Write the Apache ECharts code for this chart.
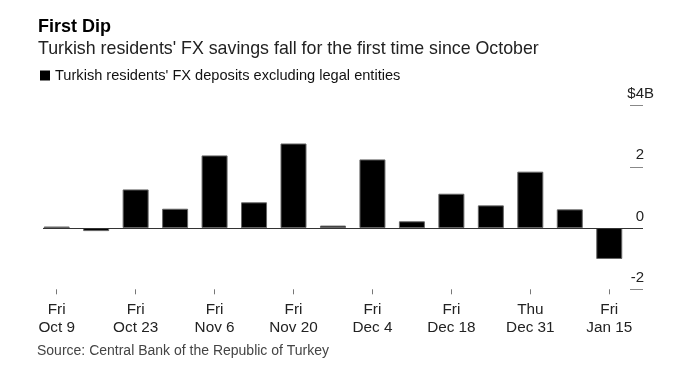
<!DOCTYPE html>
<html>
<head>
<meta charset="utf-8">
<script src="https://cdn.jsdelivr.net/npm/echarts@6/dist/echarts.min.js"></script>
<style>
html,body{margin:0;padding:0;background:#fff;}
#chart{width:679px;height:384px;}
</style>
</head>
<body>
<div id="chart"></div>
<script>
const categories = ['Oct 9','Oct 16','Oct 23','Oct 30','Nov 6','Nov 13','Nov 20','Nov 27','Dec 4','Dec 11','Dec 18','Dec 25','Dec 31','Jan 8','Jan 15'];
const weekdays = ['Fri','Fri','Fri','Fri','Fri','Fri','Fri','Fri','Fri','Fri','Fri','Fri','Thu','Fri','Fri'];
const values = [0.05,-0.1,1.26,0.63,2.37,0.84,2.76,0.08,2.24,0.22,1.12,0.74,1.84,0.61,-1.01];
const labelIdx = [0,2,4,6,8,10,12,14];
const yTicks = [-2,0,2,4];
const seriesName = "Turkish residents' FX deposits excluding legal entities";

const FONT = "'Liberation Sans', Arial, Helvetica, sans-serif";
const chart = echarts.init(document.getElementById('chart'), null, {renderer:'canvas'});
chart.setOption({
  animation:false,
  backgroundColor:'#fff',
  title:[
    {text:'First Dip', left:38, top:18, padding:0,
     textStyle:{fontFamily:FONT, fontSize:18, fontWeight:'bold', color:'#000', lineHeight:18}},
    {text:"Turkish residents' FX savings fall for the first time since October", left:38, top:39, padding:0,
     textStyle:{fontFamily:FONT, fontSize:17.8, fontWeight:'normal', color:'#222', lineHeight:20}},
    {text:'Source: Central Bank of the Republic of Turkey', left:37, top:344, padding:0,
     textStyle:{fontFamily:FONT, fontSize:14, fontWeight:'normal', color:'#444', lineHeight:14}}
  ],
  legend:{
    left:40, top:68, padding:0, itemWidth:10, itemHeight:10, icon:'rect',
    selectedMode:false,
    textStyle:{fontFamily:FONT, fontSize:14.6, color:'#111'},
    data:[{name:seriesName, itemStyle:{color:'#000', borderWidth:0}}]
  },
  grid:{left:43, right:36, top:105.5, bottom:94.7, containLabel:false},
  xAxis:{
    type:'value', min:-0.347, max:14.855,
    splitLine:{show:false},
    axisLine:{show:false, onZero:false},
    axisTick:{show:true, customValues:labelIdx, length:5, lineStyle:{color:'#777', width:1}},
    axisLabel:{show:true, customValues:labelIdx, margin:11.5, lineHeight:18,
      fontFamily:FONT, fontSize:15.3, color:'#222',
      formatter:function(v){ return weekdays[v] + '\n' + categories[v]; }}
  },
  yAxis:{
    type:'value', min:yTicks[0], max:yTicks[yTicks.length-1], interval:2,
    position:'right',
    splitLine:{show:false},
    axisLine:{show:false, onZero:false},
    axisTick:{show:true, inside:true, length:13, lineStyle:{color:'#888', width:1}},
    axisLabel:{show:true, inside:true, margin:-1, align:'right', verticalAlign:'bottom',
      padding:[0,0,4,0], fontFamily:FONT, fontSize:15, color:'#222',
      formatter:function(v){ return v === 4 ? '{a|$4}{u|B}' : String(v); },
      rich:{
        a:{align:'left', fontFamily:FONT, fontSize:15, color:'#222'},
        u:{width:0, align:'left', fontFamily:FONT, fontSize:15, color:'#222'}
      }}
  },
  series:[{
    name:seriesName,
    type:'bar',
    data:values.map(function(v,i){return [i,v];}),
    barWidth:26,
    itemStyle:{color:'#000', borderColor:'#666', borderWidth:1},
    markLine:{
      silent:true, symbol:['none','none'], animation:false,
      label:{show:false},
      lineStyle:{color:'#333', width:1, type:'solid'},
      data:[{yAxis:0}]
    }
  }]
});
</script>
</body>
</html>
